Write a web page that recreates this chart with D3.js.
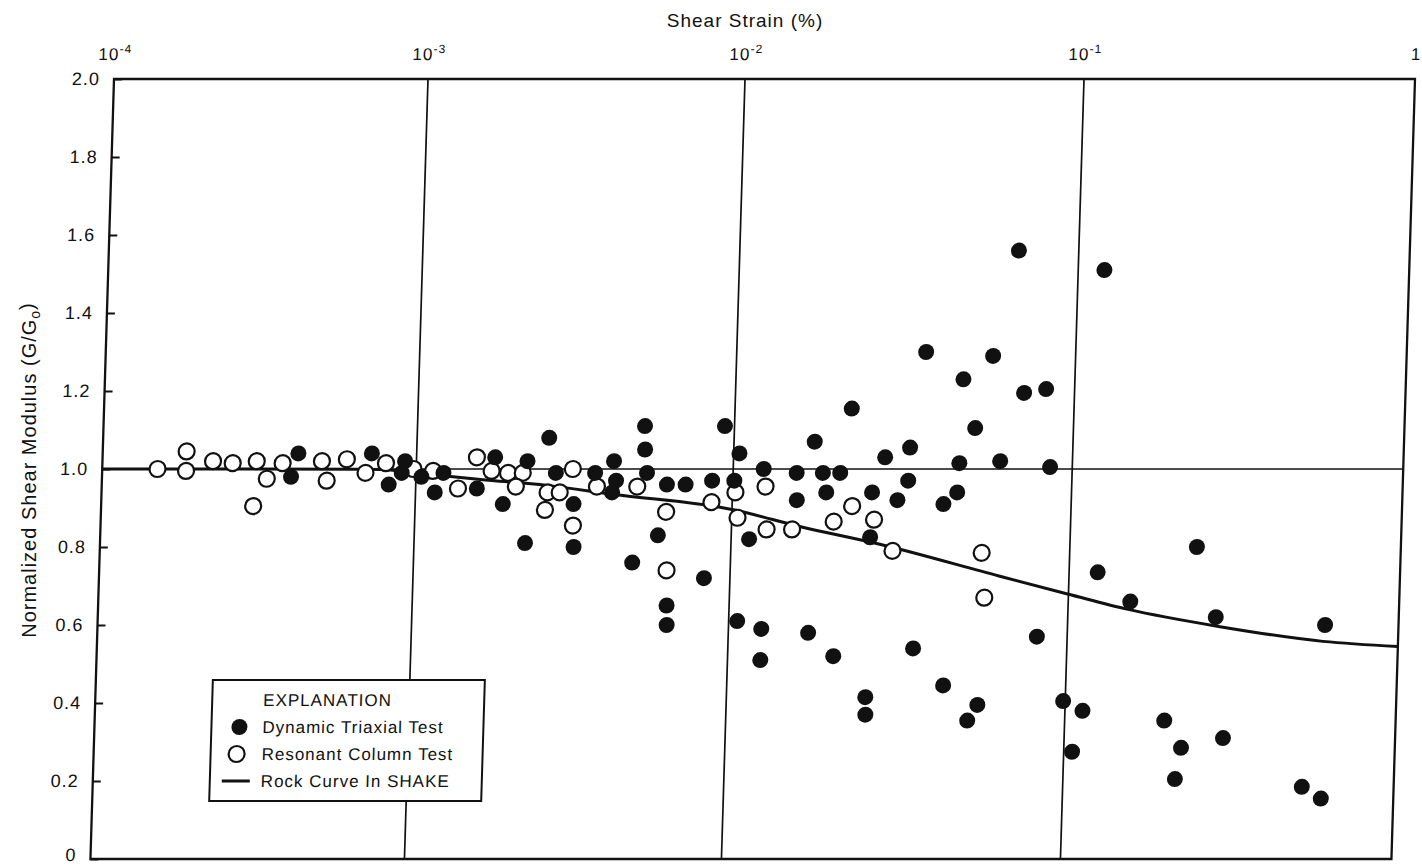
<!DOCTYPE html>
<html>
<head>
<meta charset="utf-8">
<script src="https://cdn.jsdelivr.net/npm/d3@7"></script>
<style>
  body { margin: 0; background: #fff; }
  text { font-family: "Liberation Sans", Arial, sans-serif; fill: #111; letter-spacing: 1px; }
</style>
</head>
<body>
<svg id="chart" width="1422" height="866"></svg>
<script>
// [shear strain (%), G/Go]
const triaxialTest = [
  [4.2e-4, 1.04], [4.0e-4, 0.98], [7.2e-4, 1.04], [8.2e-4, 0.96], [9.2e-4, 1.02],
  [9.0e-4, 0.99], [1.04e-3, 0.98], [1.22e-3, 0.99], [1.15e-3, 0.94], [1.77e-3, 1.03],
  [1.56e-3, 0.95], [2.24e-3, 1.02], [1.89e-3, 0.91], [2.61e-3, 1.08], [2.76e-3, 0.99],
  [3.16e-3, 0.91], [3.19e-3, 0.80], [2.24e-3, 0.81], [3.67e-3, 0.99], [4.2e-3, 1.02],
  [4.28e-3, 0.97], [4.17e-3, 0.94], [5.22e-3, 1.11], [5.25e-3, 1.05], [5.35e-3, 0.99],
  [6.2e-3, 0.96], [7.1e-3, 0.96], [5.87e-3, 0.83], [4.9e-3, 0.76], [8.28e-3, 0.72],
  [6.35e-3, 0.65], [6.38e-3, 0.60], [8.6e-3, 0.97], [9.33e-3, 1.11], [1.04e-2, 1.04],
  [1.01e-2, 0.97], [1.13e-2, 0.82], [1.06e-2, 0.61], [1.25e-2, 0.59], [1.25e-2, 0.51],
  [1.23e-2, 1.00], [1.54e-2, 0.99], [1.55e-2, 0.92], [1.73e-2, 1.07], [1.84e-2, 0.99],
  [2.07e-2, 0.99], [1.89e-2, 0.94], [2.21e-2, 1.155], [1.72e-2, 0.58], [2.05e-2, 0.52],
  [2.58e-2, 0.94], [2.57e-2, 0.825], [2.57e-2, 0.415], [2.58e-2, 0.37], [2.8e-2, 1.03],
  [3.07e-2, 0.92], [3.31e-2, 1.055], [3.29e-2, 0.97], [3.52e-2, 0.54], [3.62e-2, 1.30],
  [4.35e-2, 0.445], [4.2e-2, 0.91], [4.6e-2, 0.94], [4.64e-2, 1.015], [4.69e-2, 1.23],
  [5.13e-2, 1.105], [5.71e-2, 1.29], [5.16e-2, 0.355], [5.51e-2, 0.395], [6.12e-2, 1.02],
  [6.66e-2, 1.56], [7.1e-2, 1.195], [8.24e-2, 1.205], [8.6e-2, 1.005], [8.14e-2, 0.57],
  [0.120, 1.51], [0.122, 0.735], [9.86e-2, 0.405], [0.113, 0.38], [0.106, 0.275],
  [0.154, 0.66], [0.200, 0.355], [0.226, 0.285], [0.218, 0.205], [0.242, 0.80],
  [0.280, 0.62], [0.302, 0.31], [0.528, 0.185], [0.604, 0.155], [0.600, 0.60]
];

const resonantColumn = [
  [1.5e-4, 1.00], [1.85e-4, 1.045], [1.85e-4, 0.995], [2.25e-4, 1.02], [2.6e-4, 1.015],
  [3.1e-4, 1.02], [3.35e-4, 0.975], [3.05e-4, 0.905], [3.75e-4, 1.015], [5.0e-4, 1.02],
  [5.2e-4, 0.97], [6.0e-4, 1.025], [6.9e-4, 0.99], [8.0e-4, 1.015], [9.8e-4, 1.00],
  [1.13e-3, 0.995], [1.36e-3, 0.95], [1.55e-3, 1.03], [1.73e-3, 0.995], [1.95e-3, 0.99],
  [2.17e-3, 0.99], [2.07e-3, 0.955], [2.57e-3, 0.895], [2.61e-3, 0.94], [2.85e-3, 0.94],
  [3.12e-3, 1.00], [3.16e-3, 0.855], [3.73e-3, 0.955], [5.0e-3, 0.955], [6.2e-3, 0.89],
  [6.3e-3, 0.74], [8.6e-3, 0.915], [1.02e-2, 0.94], [1.04e-2, 0.875], [1.25e-2, 0.955],
  [1.27e-2, 0.845], [1.51e-2, 0.845], [2.0e-2, 0.865], [2.26e-2, 0.905], [2.63e-2, 0.87],
  [3.0e-2, 0.79], [5.5e-2, 0.785], [5.65e-2, 0.67]
];

const shakeRockCurve = [
  [1e-4, 1.0], [3e-4, 1.0], [7.7e-4, 0.999], [1e-3, 0.99], [1.6e-3, 0.973],
  [2.6e-3, 0.958], [4.2e-3, 0.935], [1e-2, 0.896], [1.6e-2, 0.852], [2.75e-2, 0.807],
  [6.25e-2, 0.725], [0.1, 0.679], [0.152, 0.64], [0.283, 0.597], [0.593, 0.558], [1, 0.545]
];

const strainTicks = [1e-4, 1e-3, 1e-2, 1e-1, 1];
const gridStrains = [1e-3, 1e-2, 1e-1];
const modulusTicks = [0, 0.2, 0.4, 0.6, 0.8, 1.0, 1.2, 1.4, 1.6, 1.8, 2.0];
const legendLabels = ["Dynamic Triaxial Test", "Resonant Column Test", "Rock Curve In SHAKE"];

const svg = d3.select("#chart");
const plotTop = 79, plotBottom = 859, plotLeft = 114, plotRight = 1415;

// decades in the scan are not quite even, so the log scale is piecewise
const x = d3.scaleLog()
  .domain(strainTicks)
  .range([plotLeft, 428, 745, 1084, plotRight]);
const y = d3.scaleLinear().domain([0, 2]).range([plotBottom, plotTop]);

// the scanned page is skewed a little, lean the plot the same way
const g = svg.append("g")
  .attr("transform", `translate(0,${plotTop}) skewX(-1.73) translate(0,${-plotTop})`);

// grid
g.selectAll(".vgrid").data(gridStrains).enter().append("line")
  .attr("x1", d => x(d)).attr("x2", d => x(d))
  .attr("y1", plotTop).attr("y2", plotBottom)
  .attr("stroke", "#111").attr("stroke-width", 1.7);
g.append("line")
  .attr("x1", plotLeft).attr("x2", plotRight)
  .attr("y1", y(1)).attr("y2", y(1))
  .attr("stroke", "#111").attr("stroke-width", 1.7);

// left axis, ticks point inward
const yAxis = g.append("g")
  .attr("transform", `translate(${plotLeft},0)`)
  .call(d3.axisLeft(y).tickValues(modulusTicks).tickSize(-8).tickPadding(14)
    .tickFormat(d => d === 0 ? "0" : d3.format(".1f")(d)));
yAxis.select(".domain").remove();
yAxis.selectAll("line").attr("stroke", "#111").attr("stroke-width", 2);
yAxis.selectAll("text").style("font-size", "18px").attr("fill", "#111");
// keep the "0" inside the page
yAxis.selectAll(".tick text").filter(d => d === 0).attr("dy", "0.1em");

// top axis labels 10^-n
const xAxis = g.append("g")
  .attr("transform", `translate(0,${plotTop})`)
  .call(d3.axisTop(x).tickValues(strainTicks).tickSize(0).tickPadding(19));
xAxis.select(".domain").remove();
xAxis.selectAll(".tick text").style("font-size", "17px").attr("fill", "#111")
  .each(function(d) {
    const t = d3.select(this).text(null);
    const e = Math.round(Math.log10(d));
    if (e === 0) { t.text("1"); return; }
    t.append("tspan").text("10");
    t.append("tspan").attr("dy", "-0.55em").style("font-size", "12px").text("-" + (-e));
  });

// frame
g.append("rect")
  .attr("x", plotLeft).attr("y", plotTop)
  .attr("width", plotRight - plotLeft).attr("height", plotBottom - plotTop)
  .attr("fill", "none").attr("stroke", "#111").attr("stroke-width", 2.3);

// SHAKE curve
const line = d3.line()
  .x(d => x(d[0])).y(d => y(d[1]))
  .curve(d3.curveMonotoneX);
g.append("path")
  .datum(shakeRockCurve)
  .attr("d", line)
  .attr("fill", "none").attr("stroke", "#111").attr("stroke-width", 3);

g.selectAll(".rc").data(resonantColumn).enter().append("circle")
  .attr("cx", d => x(d[0])).attr("cy", d => y(d[1])).attr("r", 8)
  .attr("fill", "#fff").attr("stroke", "#111").attr("stroke-width", 2.2);

g.selectAll(".dt").data(triaxialTest).enter().append("circle")
  .attr("cx", d => x(d[0])).attr("cy", d => y(d[1])).attr("r", 8)
  .attr("fill", "#111");

// legend
const lg = g.append("g").attr("transform", "translate(231,680)");
lg.append("rect").attr("width", 272).attr("height", 121)
  .attr("fill", "#fff").attr("stroke", "#111").attr("stroke-width", 2);
lg.append("text").attr("x", 51).attr("y", 26).style("font-size", "17px").text("EXPLANATION");
const rows = lg.selectAll(".row").data(legendLabels).enter().append("g")
  .attr("transform", (d, i) => `translate(0,${47 + i * 27})`);
rows.append("text").attr("x", 51).attr("y", 6).style("font-size", "17px").text(d => d);
rows.each(function(d, i) {
  const r = d3.select(this);
  if (i === 0) r.append("circle").attr("cx", 28).attr("r", 8).attr("fill", "#111");
  else if (i === 1) r.append("circle").attr("cx", 26).attr("r", 8)
    .attr("fill", "#fff").attr("stroke", "#111").attr("stroke-width", 2.2);
  else r.append("line").attr("x1", 12).attr("x2", 40).attr("y1", 0).attr("y2", 0)
    .attr("stroke", "#111").attr("stroke-width", 3);
});

// axis titles
svg.append("text")
  .attr("x", 745).attr("y", 27)
  .attr("text-anchor", "middle").style("font-size", "19px")
  .text("Shear Strain (%)");

const yt = svg.append("text")
  .attr("transform", "translate(36,470) rotate(-90)")
  .attr("text-anchor", "middle").style("font-size", "20px");
yt.append("tspan").text("Normalized Shear Modulus (G/G");
yt.append("tspan").attr("dy", "0.3em").style("font-size", "14px").text("o");
yt.append("tspan").attr("dy", "-0.3em").text(")");
</script>
</body>
</html>
